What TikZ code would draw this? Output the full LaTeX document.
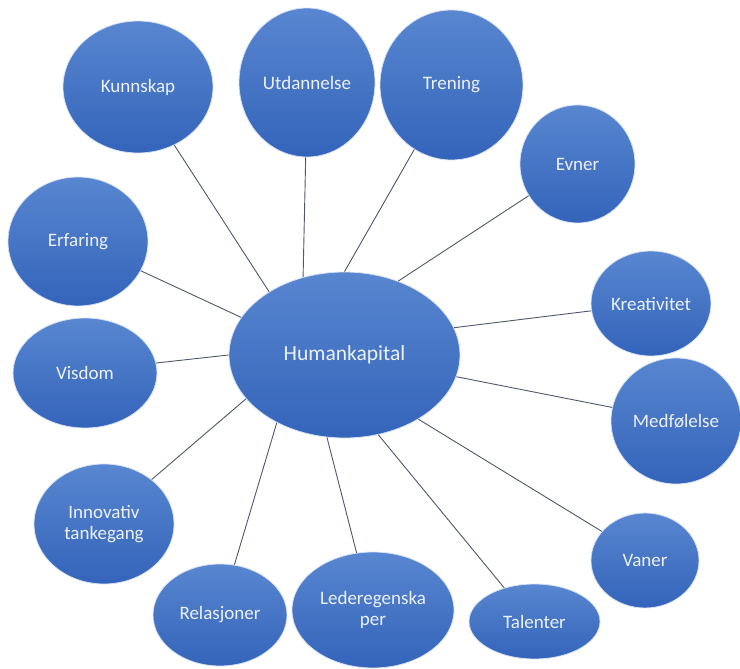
\documentclass[tikz,border=0pt]{standalone}
\usepackage{fontspec}
\setmainfont{Carlito}
\usetikzlibrary{shapes.geometric}

\definecolor{bubtop}{RGB}{88,134,208}
\definecolor{bubbot}{RGB}{52,100,186}
\definecolor{bubedge}{RGB}{214,224,242}
\definecolor{bubtext}{RGB}{236,241,250}
\definecolor{linkgray}{RGB}{78,88,108}

\tikzset{
  bub/.style={ellipse, inner sep=0pt, top color=bubtop, bottom color=bubbot,
    draw=bubedge, line width=0.8pt, text=bubtext, align=center,
    font=\fontsize{19}{20.5}\selectfont},
  wh/.style 2 args={minimum width=#1pt, minimum height=#2pt},
  link/.style={draw=linkgray, line width=0.9pt}
}

\begin{document}
\begin{tikzpicture}[x=1pt, y=-1pt]
  \useasboundingbox (0,0) rectangle (740,669);

  % centre
  \node[bub, wh={231}{166}, font=\fontsize{21.5}{24}\selectfont] (hk) at (344.5,355) {Humankapital};

  % ring of bubbles, clockwise from top left
  \node[bub, wh={150}{132}] (kunnskap) at (138,87) {Kunnskap};
  \node[bub, wh={136}{149}] (utdannelse) at (307,82.5) {Utdannelse};
  \node[bub, wh={143}{150}] (trening) at (451.5,85) {Trening};
  \node[bub, wh={115}{118}] (evner) at (577.5,164) {Evner};
  \node[bub, wh={120}{105}] (kreativitet) at (651,303.5) {Kreativitet};
  \node[bub, wh={130}{126}] (medfolelse) at (676,421) {Medfølelse};
  \node[bub, wh={108}{95}] (vaner) at (645,560.5) {Vaner};
  \node[bub, wh={131}{75}] (talenter) at (534.5,621.5) {Talenter};
  \node[bub, wh={162}{116}] (leder) at (373,610) {Lederegenska\\per};
  \node[bub, wh={134}{102}] (relasjoner) at (220,615) {Relasjoner};
  \node[bub, wh={140}{120}] (innovativ) at (104,524) {Innovativ\\tankegang};
  \node[bub, wh={144}{110}] (visdom) at (85,373) {Visdom};
  \node[bub, wh={140}{129}] (erfaring) at (78,241.5) {Erfaring};

  % spokes: bubble/anchor on bubble/anchor on centre
  \foreach \n/\a/\b in {kunnskap/-58/140, utdannelse/-91/118, trening/-120/90,
      evner/-147/54, kreativitet/-173/14, medfolelse/168/-11, vaner/146/-41,
      talenter/132/-67, leder/106/-102, relasjoner/74/-135, innovativ/43/-156,
      visdom/8/180, erfaring/-25/160}
    {\draw[link] (\n.\a) -- (hk.\b);}
\end{tikzpicture}
\end{document}
